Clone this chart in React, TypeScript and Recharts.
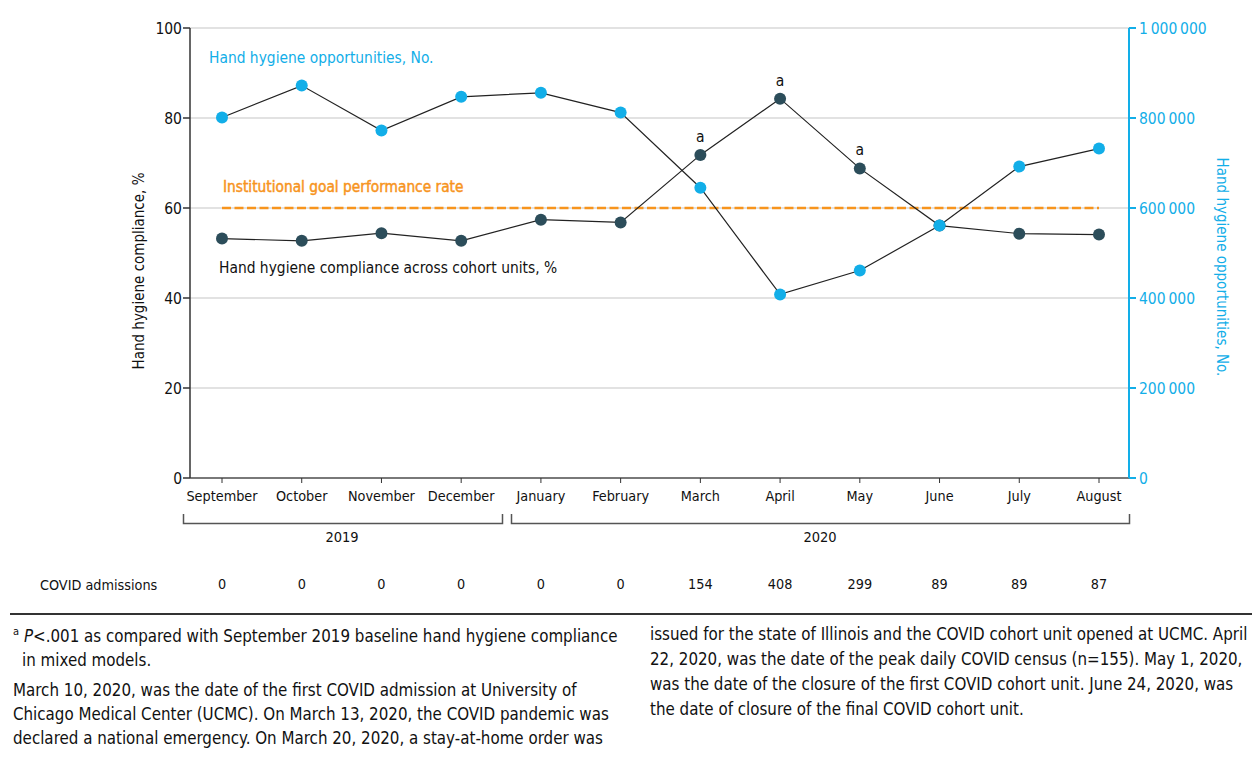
import React from 'react';
import { CartesianGrid, LabelList, Line, LineChart, XAxis, YAxis } from 'recharts';

const FONT = '"DejaVu Sans Condensed", "DejaVu Sans", sans-serif';
const BLUE = '#12aee8';
const DARK = '#2c4d5a';
const ORANGE = '#f7941d';

const months = [
  'September', 'October', 'November', 'December', 'January', 'February',
  'March', 'April', 'May', 'June', 'July', 'August',
];
const compliance = [53.2, 52.7, 54.4, 52.7, 57.4, 56.8, 71.8, 84.3, 68.8, 56.1, 54.3, 54.1];
const opportunities = [801000, 872000, 772000, 847000, 856000, 812000, 645000, 408000, 461000, 561000, 692000, 732000];
// institutional goal performance rate, %
const goal = [60, 60, 60, 60, 60, 60, 60, 60, 60, 60, 60, 60];
const admissions = [0, 0, 0, 0, 0, 0, 154, 408, 299, 89, 89, 87];
const marks = ['', '', '', '', '', '', 'a', 'a', 'a', '', '', ''];
const leftTicks = [0, 20, 40, 60, 80, 100];
const rightTicks = [0, 200000, 400000, 600000, 800000, 1000000];

const data = months.map((month, i) => ({
  month,
  compliance: compliance[i],
  opportunities: opportunities[i],
  goal: goal[i],
  mark: marks[i],
}));

const fmtCount = (v: number) => String(v).replace(/\B(?=(\d{3})+(?!\d))/g, '\u2009');

const MonthTick = (props: any) => {
  const { x, y, payload, index } = props;
  return (
    <g fontFamily={FONT} fontSize={14.3}>
      <text x={x} y={y + 16} textAnchor="middle" fill="#111">{payload.value}</text>
      <text x={x} y={y + 104} textAnchor="middle" fill="#111">{admissions[index]}</text>
    </g>
  );
};

const MarkLabel = (props: any) => {
  const { x, y, value } = props;
  if (!value) return null;
  return (
    <text x={x} y={y - 13} textAnchor="middle" fontFamily={FONT} fontSize={15.5} fill="#111">
      {value}
    </text>
  );
};

const App = () => {
  return (
    <div style={{ position: 'absolute', left: 0, top: 0, width: 1252, height: 761, background: '#fff', fontFamily: FONT }}>
      <LineChart width={1252} height={610} data={data} margin={{ top: 28, right: 23, bottom: 102, left: 130 }}>
        <CartesianGrid yAxisId="left" vertical={false} stroke="#d8d8d8" strokeWidth={1.5} />
        <XAxis
          dataKey="month"
          height={30}
          padding={{ left: 32, right: 30 }}
          stroke="#111"
          tickSize={5}
          tickLine={{ stroke: '#333' }}
          tick={<MonthTick />}
          interval={0}
        />
        <YAxis
          yAxisId="left"
          width={60}
          domain={[0, 100]}
          ticks={leftTicks}
          stroke="#333"
          strokeWidth={1.5}
          tickSize={7}
          tickMargin={1}
          tick={{ fill: '#111', fontSize: 15.5, fontFamily: FONT }}
        />
        <YAxis
          yAxisId="right"
          orientation="right"
          width={100}
          domain={[0, 1000000]}
          ticks={rightTicks}
          tickFormatter={fmtCount}
          stroke={BLUE}
          strokeWidth={2}
          tickSize={7}
          tickMargin={3}
          tick={{ fill: BLUE, fontSize: 15.5, fontFamily: FONT }}
        />
        <Line
          yAxisId="left"
          dataKey="goal"
          stroke={ORANGE}
          strokeWidth={2.5}
          strokeDasharray="9 3.5"
          dot={false}
          activeDot={false}
          isAnimationActive={false}
        />
        <Line
          yAxisId="left"
          dataKey="compliance"
          stroke="#222"
          strokeWidth={1.2}
          dot={{ r: 6, fill: DARK, stroke: DARK, strokeWidth: 0 }}
          isAnimationActive={false}
        >
          <LabelList dataKey="mark" content={<MarkLabel />} />
        </Line>
        <Line
          yAxisId="right"
          dataKey="opportunities"
          stroke="#222"
          strokeWidth={1.2}
          dot={{ r: 6, fill: BLUE, stroke: BLUE, strokeWidth: 0 }}
          isAnimationActive={false}
        />
      </LineChart>

      <svg width={1252} height={761} style={{ position: 'absolute', left: 0, top: 0, pointerEvents: 'none' }} fontFamily={FONT}>
        <text x={144} y={271} fontSize={15} textAnchor="middle" fill="#111" transform="rotate(-90 144 271)">
          Hand hygiene compliance, %
        </text>
        <text x={1217} y={267} fontSize={15} textAnchor="middle" fill={BLUE} transform="rotate(90 1217 267)">
          Hand hygiene opportunities, No.
        </text>

        <text x={209} y={63} fontSize={15.4} fill={BLUE}>Hand hygiene opportunities, No.</text>
        <text x={223} y={192} fontSize={15.3} fill={ORANGE} stroke={ORANGE} strokeWidth={0.45}>
          Institutional goal performance rate
        </text>
        <text x={219} y={273} fontSize={15.4} fill="#111">Hand hygiene compliance across cohort units, %</text>

        <path d="M183.5 514 V523.5 H502.5 V514" fill="none" stroke="#555" strokeWidth={1.5} />
        <path d="M511.5 514 V523.5 H1129.5 V514" fill="none" stroke="#555" strokeWidth={1.5} />
        <text x={342} y={542} fontSize={14.5} textAnchor="middle" fill="#111">2019</text>
        <text x={820} y={542} fontSize={14.5} textAnchor="middle" fill="#111">2020</text>

        <text x={40} y={590} fontSize={14.3} fill="#111">COVID admissions</text>
        <line x1={10} x2={1252} y1={614} y2={614} stroke="#333" strokeWidth={2} />
      </svg>

      <div style={{ position: 'absolute', left: 13, top: 624, width: 640, fontSize: 16.8, lineHeight: '24px', color: '#111', whiteSpace: 'nowrap' }}>
        <div><span style={{ fontSize: 11, verticalAlign: 'super', lineHeight: 0 }}>a</span> <i>P</i>&lt;.001 as compared with September 2019 baseline hand hygiene compliance</div>
        <div style={{ paddingLeft: 9 }}>in mixed models.</div>
        <div style={{ marginTop: 6 }}>March 10, 2020, was the date of the first COVID admission at University of</div>
        <div>Chicago Medical Center (UCMC). On March 13, 2020, the COVID pandemic was</div>
        <div>declared a national emergency. On March 20, 2020, a stay-at-home order was</div>
      </div>
      <div style={{ position: 'absolute', left: 650, top: 622, width: 602, fontSize: 16.8, lineHeight: '25px', color: '#111', whiteSpace: 'nowrap' }}>
        <div>issued for the state of Illinois and the COVID cohort unit opened at UCMC. April</div>
        <div>22, 2020, was the date of the peak daily COVID census (n=155). May 1, 2020,</div>
        <div>was the date of the closure of the first COVID cohort unit. June 24, 2020, was</div>
        <div>the date of closure of the final COVID cohort unit.</div>
      </div>
    </div>
  );
};

export default App;
